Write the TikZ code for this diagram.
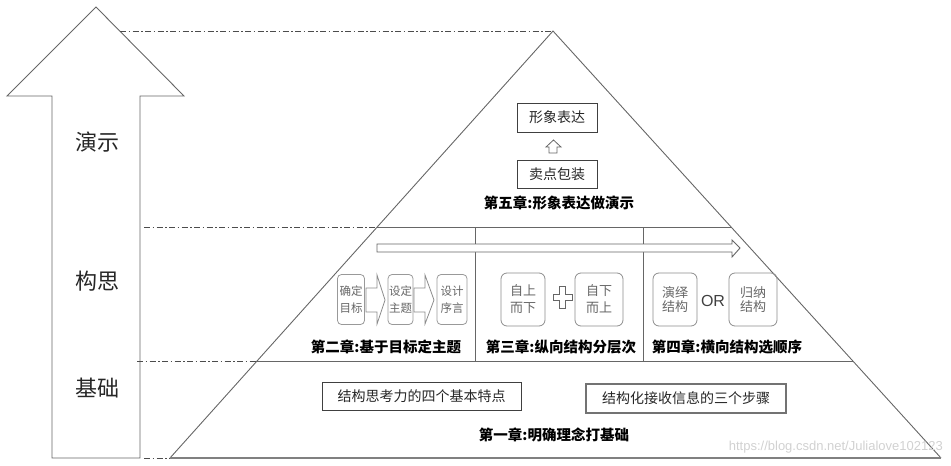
\documentclass[tikz,border=0pt]{standalone}
\usepackage{fontspec}
\setmainfont{Liberation Sans}
\newfontfamily\cjk{Noto Sans CJK SC}
\begin{document}
\begin{tikzpicture}[x=1pt,y=-1pt,
  edge/.style={draw=black!60,line width=0.9pt},
  ddline/.style={draw=black!70,line width=0.9pt,dash pattern=on 6pt off 2.5pt on 1.5pt off 2.5pt},
  sqbox/.style={draw=black!75,line width=0.8pt,rectangle,inner sep=0pt,font=\cjk\fontsize{14}{16}\selectfont,text=black!85},
  chap/.style={font=\cjk\bfseries\fontsize{14.5}{16}\selectfont,text=black,inner sep=0pt},
  rbox/.style={draw=black!40,line width=0.8pt,rounded corners=4pt,inner sep=0pt,align=center,text=black!60},
  blockarr/.style={draw=black!45,line width=0.8pt,fill=white},
  side/.style={font=\cjk\fontsize{22}{24}\selectfont,text=black!85}]
\useasboundingbox (0,0) rectangle (951,466);
% big arrow
\draw[edge] (52,458) -- (52,96) -- (7,96) -- (96,7) -- (184,96) -- (140,96) -- (140,458) -- cycle;
\node[side] (yanshi) at (97,142) {演示};
\node[side] (gousi) at (97,281) {构思};
\node[side] (jichu) at (97,388) {基础};
% dash-dot guides
\coordinate (apex) at (553,31);
\coordinate (bl) at (170,458);
\coordinate (br) at (941,458);
\coordinate (l2) at (377,227);
\coordinate (r2) at (731,227);
\coordinate (l3) at (257,361);
\coordinate (r3) at (853,361);
\coordinate (g1) at (120,31);
\coordinate (g2) at (144,227);
\coordinate (g3) at (137,361);
\coordinate (g4) at (144,458);
\draw[ddline] (g1) -- (apex);
\draw[ddline] (g2) -- (405,227);
\draw[ddline] (g3) -- (280,361);
\draw[ddline] (g4) -- (bl);
% pyramid
\draw[edge] (bl) -- (apex) -- (br);
\draw[draw=black!50,line width=1.6pt] (bl) -- (br);
\draw[edge] (l2) -- (r2);
\draw[edge] (l3) -- (r3);
\coordinate (d1t) at (475,227); \coordinate (d1b) at (475,361);
\coordinate (d2t) at (643,227); \coordinate (d2b) at (643,361);
\draw[edge] (d1t) -- (d1b);
\draw[edge] (d2t) -- (d2b);
% long arrow
\draw[edge,fill=white] (377,244) -- (732,244) -- (732,240) -- (740,248) -- (732,257) -- (732,252) -- (377,252) -- cycle;
% top section
\node[sqbox,minimum width=80pt,minimum height=29pt] (xx) at (557,117.5) {形象表达};
\node[sqbox,minimum width=80pt,minimum height=28pt] (md) at (557,174) {卖点包装};
\draw[draw=black!60,line width=0.8pt,fill=white] (549,153) -- (549,147) -- (546,147) -- (553.5,140) -- (561,147) -- (557,147) -- (557,153) -- cycle;
\node[chap] (c5) at (559,203) {第五章:形象表达做演示};
% chapter 2
\node[rbox,minimum width=27pt,minimum height=50pt,font=\cjk\fontsize{11.5}{17}\selectfont] (b21) at (351,299.5) {确定\\目标};
\node[rbox,minimum width=25pt,minimum height=50pt,font=\cjk\fontsize{11.5}{17}\selectfont] (b22) at (400.5,299.5) {设定\\主题};
\node[rbox,minimum width=30pt,minimum height=50pt,font=\cjk\fontsize{11.5}{17}\selectfont] (b23) at (452,299.5) {设计\\序言};
\draw[blockarr] (366,288) -- (377,288) -- (377,275) -- (385,300) -- (377,324) -- (377,312) -- (366,312) -- cycle;
\draw[blockarr] (414,288) -- (425,288) -- (425,275) -- (434,300) -- (425,324) -- (425,312) -- (414,312) -- cycle;
\node[chap] (c2) at (386,347) {第二章:基于目标定主题};
% chapter 3
\node[rbox,draw=black!45,rounded corners=6pt,minimum width=44pt,minimum height=53pt,font=\cjk\fontsize{13}{17}\selectfont] (b31) at (523,299.5) {自上\\而下};
\node[rbox,draw=black!45,rounded corners=6pt,minimum width=48pt,minimum height=53pt,font=\cjk\fontsize{13}{17}\selectfont] (b32) at (599,299.5) {自下\\而上};
\draw[draw=black!60,line width=0.8pt,fill=white] (559.5,286) -- (565.5,286) -- (565.5,294) -- (572,294) -- (572,300) -- (565.5,300) -- (565.5,308) -- (559.5,308) -- (559.5,300) -- (553,300) -- (553,294) -- (559.5,294) -- cycle;
\node[chap] (c3) at (561,347) {第三章:纵向结构分层次};
% chapter 4
\node[rbox,draw=black!45,rounded corners=6pt,minimum width=44pt,minimum height=53pt,font=\cjk\fontsize{13}{14}\selectfont] (b41) at (675,299.5) {演绎\\结构};
\node[rbox,draw=black!45,rounded corners=6pt,minimum width=48pt,minimum height=53pt,font=\cjk\fontsize{13}{14}\selectfont] (b42) at (753,299.5) {归纳\\结构};
\node[font=\fontsize{16}{18}\selectfont,text=black!75] (or) at (713,301) {OR};
\node[chap] (c4) at (727,347) {第四章:横向结构选顺序};
% chapter 1
\node[sqbox,minimum width=199pt,minimum height=28pt] (t1) at (421.5,396) {结构思考力的四个基本特点};
\node[sqbox,draw=black!55,line width=1.4pt,minimum width=200pt,minimum height=29pt] (t2) at (686,398.5) {结构化接收信息的三个步骤};
\node[chap] (c1) at (554,435) {第一章:明确理念打基础};
% watermark
\node[anchor=east,font=\fontsize{13}{15}\selectfont,text=black!18,inner sep=0pt] (wm) at (943,447) {https://blog.csdn.net/Julialove102123};
\end{tikzpicture}
\end{document}
